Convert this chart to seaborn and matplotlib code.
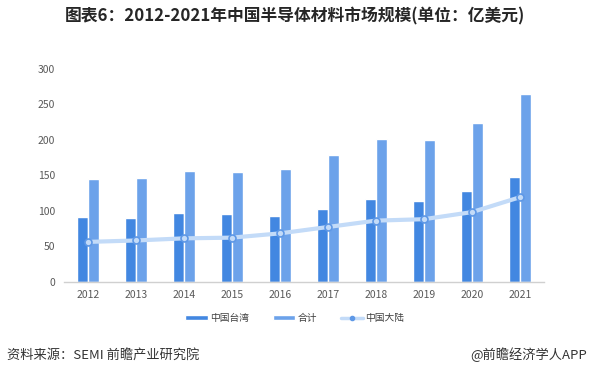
import pandas as pd
import seaborn as sns
import matplotlib.pyplot as plt
from matplotlib.patches import Patch
from matplotlib.lines import Line2D

# Data (unit: 亿美元)
years = ["2012", "2013", "2014", "2015", "2016", "2017", "2018", "2019", "2020", "2021"]
taiwan = [91, 89, 97, 95, 92, 103, 117, 114, 128, 147]
total = [145, 146, 156, 155, 159, 179, 201, 200, 224, 265]
mainland = [56, 58, 61, 62, 68, 77, 86, 88, 98, 119]

series_names = ["中国台湾", "合计", "中国大陆"]
bar_colors = ["#4287e1", "#6ca2ea"]
line_color = "#c3dbf8"
marker_edge = "#5e98e6"

sns.set_style("white")
plt.rcParams["font.family"] = ["Noto Sans CJK SC", "DejaVu Sans"]

df = pd.DataFrame({
    "year": years * 2,
    "series": [series_names[0]] * len(years) + [series_names[1]] * len(years),
    "value": taiwan + total,
})

fig = plt.figure(figsize=(5.9, 3.76), dpi=100)
ax = fig.add_axes([0.108, 0.251, 0.814, 0.566])

sns.barplot(data=df, x="year", y="value", hue="series", palette=bar_colors,
            width=0.46, gap=0, saturation=1, legend=False, ax=ax)

sns.pointplot(x=years, y=mainland, color=line_color, markers="o",
              linestyles="-", linewidth=3, markersize=5, ax=ax,
              markeredgecolor=marker_edge, markeredgewidth=1.2,
              markerfacecolor=line_color)

ax.set_ylim(0, 300)
ax.set_xlim(-0.5, 9.5)
ax.set_yticks([0, 50, 100, 150, 200, 250, 300])
ax.set_xlabel("")
ax.set_ylabel("")
ax.tick_params(axis="both", length=0, labelsize=7.5, colors="#595959", pad=6)
for side in ["top", "right", "left"]:
    ax.spines[side].set_visible(False)
ax.spines["bottom"].set_color("#d0d0d0")
ax.spines["bottom"].set_linewidth(1)

handles = [
    Patch(facecolor=bar_colors[0]),
    Patch(facecolor=bar_colors[1]),
    Line2D([0], [0], color=line_color, lw=2.5, marker="o", markersize=3,
           markerfacecolor=marker_edge, markeredgecolor=marker_edge),
]
fig.legend(handles, series_names, loc="center", bbox_to_anchor=(0.5, 0.154),
           ncol=3, frameon=False, fontsize=7, handlelength=2.27, handleheight=0.52,
           handletextpad=0.3, columnspacing=2.4, labelcolor="#404040")

fig.text(0.5, 0.955, "图表6：2012-2021年中国半导体材料市场规模(单位：亿美元)",
         ha="center", va="center", fontsize=12.1, fontweight="bold", color="#262626")
fig.text(0.012, 0.056, "资料来源：SEMI 前瞻产业研究院", ha="left", va="center",
         fontsize=9.5, color="#333333")
fig.text(0.995, 0.056, "@前瞻经济学人APP", ha="right", va="center",
         fontsize=9.5, color="#333333")

fig.savefig("out.png", dpi=100)
